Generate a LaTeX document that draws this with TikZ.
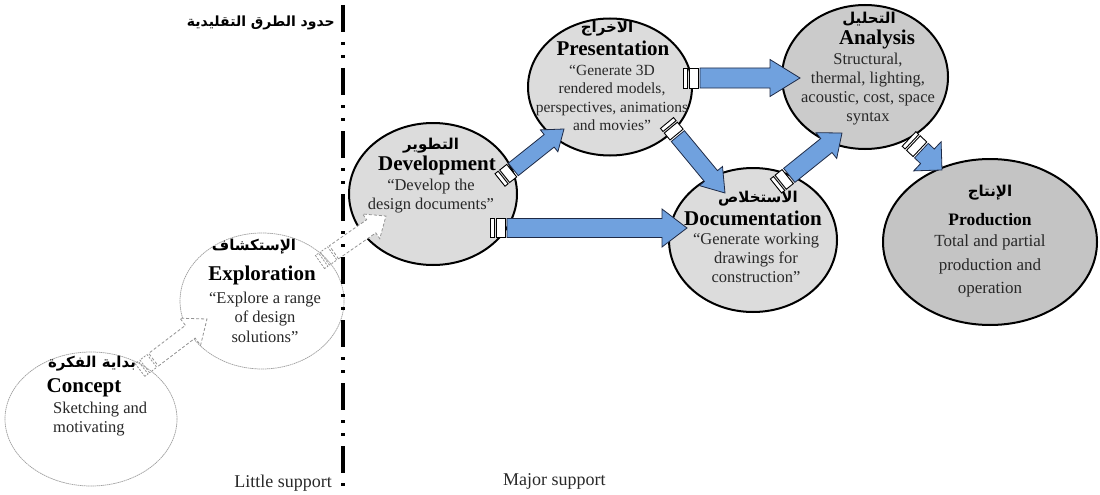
\documentclass[tikz,border=0pt]{standalone}
\usepackage{fontspec}
\setmainfont{Liberation Serif}
\newfontfamily\arabicfont[Script=Arabic]{DejaVu Sans}
\TeXXeTstate=1
\usetikzlibrary{shapes.geometric,calc}

\definecolor{arrowblue}{RGB}{112,161,222}
\definecolor{arrowedge}{RGB}{30,42,70}
\definecolor{phaselight}{RGB}{220,220,220}
\definecolor{phasemid}{RGB}{203,203,203}
\definecolor{phasedark}{RGB}{196,196,196}
\definecolor{bodytext}{RGB}{40,40,40}

% block arrow dimensions: shaft half width, head half width, head length
\pgfkeys{/ba/.is family, /ba/.cd,
  w/.store in=\baW, h/.store in=\baH, l/.store in=\baHL,
  w=9.5, h=19, l=25}

% striped block arrow from coordinate #4 to coordinate #5
\newcommand\blockarrowshape[5]{%
  \begingroup
  \pgfkeys{/ba/.cd,#3}%
  \pgfmathanglebetweenpoints{\pgfpointanchor{#4}{center}}{\pgfpointanchor{#5}{center}}%
  \edef\baAng{\pgfmathresult}%
  \pgfpointdiff{\pgfpointanchor{#4}{center}}{\pgfpointanchor{#5}{center}}%
  \pgfgetlastxy{\baDx}{\baDy}%
  \pgfmathsetmacro\baLen{veclen(\baDx,\baDy)}%
  \begin{scope}[shift={(#4)}, rotate=\baAng, x=1pt, y=1pt]
    \draw[#2] (0,-\baW) rectangle (4,\baW);
    \draw[#2] (6,-\baW) rectangle (15,\baW);
    \draw[#1] (17,-\baW) -- ({\baLen-\baHL},-\baW) -- ({\baLen-\baHL},-\baH)
      -- (\baLen,0) -- ({\baLen-\baHL},\baH) -- ({\baLen-\baHL},\baW)
      -- (17,\baW) -- cycle;
  \end{scope}
  \endgroup}
\newcommand\solidarrow[3][]{\blockarrowshape{arrow body}{arrow tail}{#1}{#2}{#3}}
\newcommand\ghostarrow[3][]{\blockarrowshape{ghost body}{ghost tail}{#1}{#2}{#3}}

\tikzset{
  arrow body/.style={fill=arrowblue, draw=arrowedge, line width=0.8pt, line join=miter},
  arrow tail/.style={fill=white, draw=black, line width=0.9pt},
  ghost body/.style={fill=white, draw=gray!85, line width=0.8pt, dash pattern=on 3pt off 2pt},
  ghost tail/.style={draw=gray!85, line width=0.8pt, dash pattern=on 2pt off 1.5pt},
  phase/.style={ellipse, draw=black, line width=2pt, inner sep=0pt},
  idea/.style={ellipse, draw=gray!75, line width=0.7pt, dash pattern=on 1.5pt off 0.6pt, fill=white, inner sep=0pt},
  ar/.style={font=\arabicfont\bfseries\fontsize{15}{17}\selectfont, inner sep=0pt},
  ttl/.style={font=\bfseries\fontsize{21}{22}\selectfont, inner sep=0pt},
  body/.style={font=\fontsize{16.5}{19.5}\selectfont, text=bodytext, inner sep=0pt, align=center},
  note/.style={font=\fontsize{18}{20}\selectfont, text=bodytext, inner sep=0pt},
}

\begin{document}
\begin{tikzpicture}[x=1pt, y=-1pt]
\useasboundingbox (0,0) rectangle (1100,495);

% phases
\node[idea, minimum width=172pt, minimum height=134pt] (con) at (91,419) {};
\node[idea, minimum width=164pt, minimum height=136pt] (exp) at (262,301) {};
\node[phase, fill=phaselight, minimum width=168pt, minimum height=142pt] (dev) at (433,194) {};
\node[phase, fill=phaselight, minimum width=164pt, minimum height=137pt] (pres) at (610,87) {};
\node[phase, fill=phasemid, minimum width=166pt, minimum height=144pt] (ana) at (865,77) {};
\node[phase, fill=phaselight, minimum width=168pt, minimum height=144pt] (doc) at (753,240) {};
\node[phase, fill=phasedark, minimum width=214pt, minimum height=166pt] (prod) at (990,242) {};

% arrow end points
\coordinate (dp-s) at ($(dev)+(67,-14)$);
\coordinate (dp-e) at ($(pres)+(-46,42)$);
\coordinate (pd-s) at ($(pres)+(57,36)$);
\coordinate (pd-e) at ($(doc)+(-28,-47)$);
\coordinate (da-s) at ($(doc)+(23,-54)$);
\coordinate (da-e) at ($(ana)+(-23,56)$);
\coordinate (ap-s) at ($(ana)+(44,62)$);
\coordinate (ap-e) at ($(prod)+(-48,-72)$);
\coordinate (pa-s) at ($(pres)+(73,-9)$);
\coordinate (pa-e) at ($(ana)+(-65,1)$);
\coordinate (dd-s) at ($(dev)+(57,34)$);
\coordinate (dd-e) at ($(doc)+(-66,-12)$);
\coordinate (ce-s) at ($(con)+(49,-49)$);
\coordinate (ce-e) at ($(exp)+(-55,18)$);
\coordinate (ed-s) at ($(exp)+(58,-39)$);
\coordinate (ed-e) at ($(dev)+(-47,22)$);

% connectors
\ghostarrow[w=8,h=17,l=21]{ce-s}{ce-e}
\ghostarrow[w=8,h=15,l=18]{ed-s}{ed-e}
\solidarrow[w=8,h=14,l=19]{dp-s}{dp-e}
\solidarrow[w=8.5,h=15,l=22]{pd-s}{pd-e}
\solidarrow[w=9,h=16.5,l=20]{da-s}{da-e}
\solidarrow[w=10,h=20,l=20]{ap-s}{ap-e}
\solidarrow[w=10,h=18.5,l=30]{pa-s}{pa-e}
\solidarrow[w=9.5,h=19,l=25]{dd-s}{dd-e}

% boundary of traditional methods
\coordinate (bnd-top) at (343,5);
\coordinate (bnd-bot) at (343,490);
\draw[line width=3.5pt, dash pattern=on 27pt off 10pt on 3pt off 10pt on 3pt off 10pt] (bnd-top) -- (bnd-bot);

% texts
\node[ar] (con-ar) at (92,364) {\beginR بداية الفكرة\endR};
\node[ttl] (con-t) at (84,388) {Concept};
\node[body, anchor=west, align=left] (con-b) at (53,419) {Sketching and\\motivating};

\node[ar] (exp-ar) at (254,247) {\beginR الإستكشاف\endR};
\node[ttl] (exp-t) at (262,275) {Exploration};
\node[body] (exp-b) at (265,317) {“Explore a range\\of design\\solutions”};

\node[ar] (dev-ar) at (431,146) {\beginR التطوير\endR};
\node[ttl] (dev-t) at (437,165) {Development};
\node[body, font=\fontsize{16.5}{18.5}\selectfont] (dev-b) at (431,196) {“Develop the\\design documents”};

\node[ar] (pres-ar) at (607,29) {\beginR الاخراج\endR};
\node[ttl] (pres-t) at (613,48) {Presentation};
\node[body, font=\fontsize{15.5}{18.3}\selectfont] (pres-b) at (612,98) {“Generate 3D\\rendered models,\\perspectives, animations\\and movies”};

\node[ar] (ana-ar) at (869,19) {\beginR التحليل\endR};
\node[ttl] (ana-t) at (877,39) {Analysis};
\node[body, font=\fontsize{16.5}{19}\selectfont] (ana-b) at (868,89) {Structural,\\thermal, lighting,\\acoustic, cost, space\\syntax};

\node[ar] (doc-ar) at (758,199) {\beginR الاستخلاص\endR};
\node[ttl] (doc-t) at (753,218) {Documentation};
\node[body, font=\fontsize{16.5}{19}\selectfont] (doc-b) at (756,258) {“Generate working\\drawings for\\construction”};

\node[ar] (prod-ar) at (990,193) {\beginR الإنتاج\endR};
\node[ttl, font=\bfseries\fontsize{17.5}{19}\selectfont] (prod-t) at (990,220) {Production};
\node[body, font=\fontsize{17}{23.5}\selectfont] (prod-b) at (990,266) {Total and partial\\production and\\operation};

\node[ar, font=\arabicfont\bfseries\fontsize{14}{16}\selectfont, anchor=east] (bnd-ar) at (335,23) {\beginR حدود الطرق التقليدية\endR};
\node[note, anchor=east] (little) at (332,483) {Little support};
\node[note, anchor=west] (major) at (503,481) {Major support};
\end{tikzpicture}
\end{document}
